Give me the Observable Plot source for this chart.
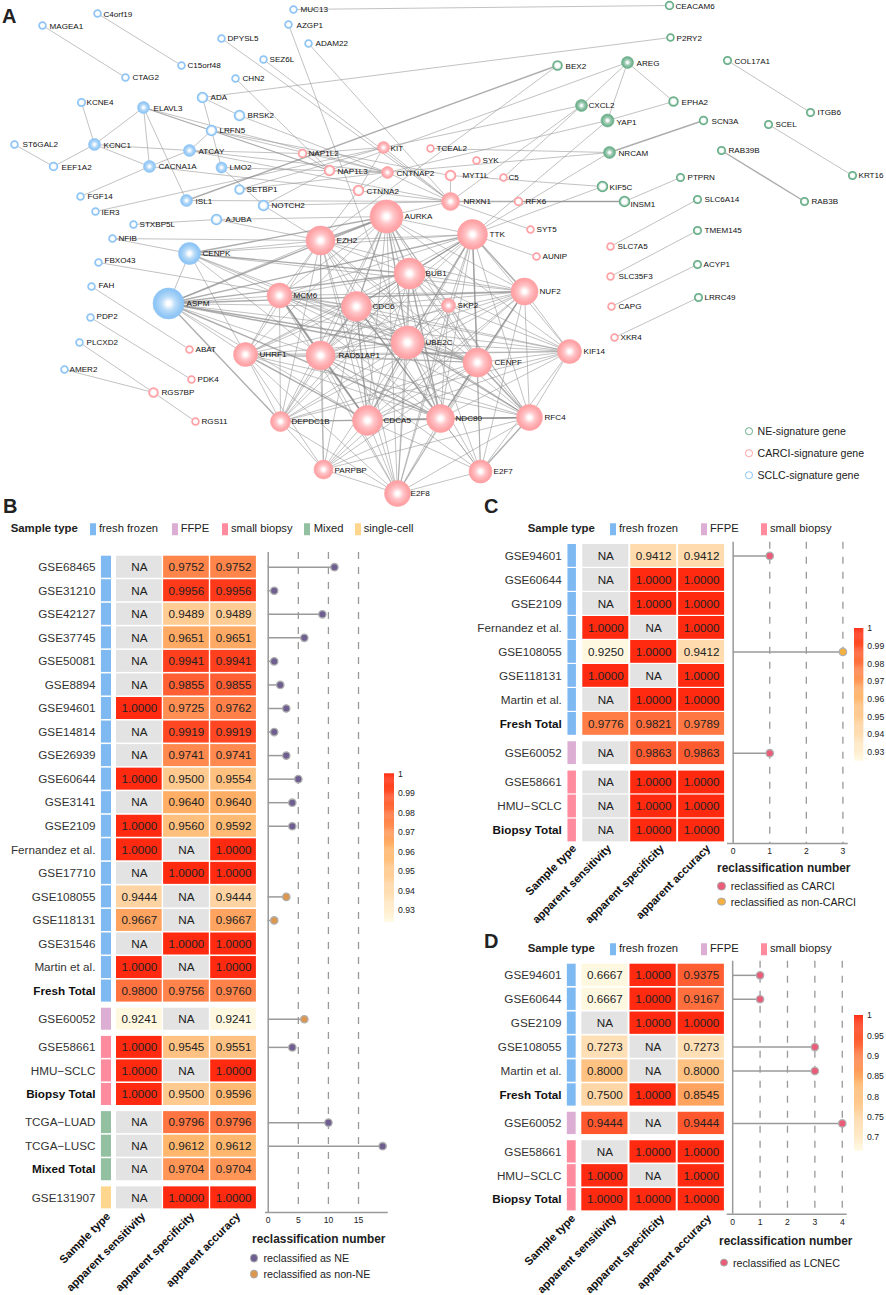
<!DOCTYPE html>
<html><head><meta charset="utf-8">
<script src="https://cdn.jsdelivr.net/npm/d3@7"></script>
<script src="https://cdn.jsdelivr.net/npm/@observablehq/plot@0.6"></script>
<style>
html,body{margin:0;padding:0;background:#fff}
#page{position:relative;width:886px;height:1295px;overflow:hidden;font-family:"Liberation Sans",Arial,sans-serif;color:#222}
#page svg{position:absolute;left:0;top:0;background:transparent}
.t{position:absolute;white-space:nowrap;transform:translateY(-50%);line-height:1}
.s{position:absolute;transform:translateY(-50%)}
</style></head><body><div id="page"></div>
<script>
// ---------- Panel A: gene network: [name, x, y, size, labelX, labelY]
const sclcGenes = [
["MAGEA1",42,25,3.5,49,25.5],["C4orf19",97,13,3.5,103,13.5],["MUC13",293,9,3.5,300,9],["AZGP1",288,24,3.5,296,24.5],
["DPYSL5",221,38,3.5,227,38],["ADAM22",308,43,3.5,315,43],["SEZ6L",263,59,3.5,269,59],["C15orf48",181,65,3.5,187,65],
["CTAG2",125,77,3.5,132,77],["CHN2",235,78,3.5,242,78],["ADA",202,97,5,210,97],["KCNE4",81,102,3.8,86,102],
["ELAVL3",143,107,6,153,107.5],["BRSK2",239,115,5,247,115],["LRFN5",211,130,5,219,130],["ST6GAL2",14,144,3.5,22,144],
["KCNC1",94,144,6,103,144.5],["ATCAY",189,150,6,198,150.5],["CACNA1A",149,166,6,158,166],["EEF1A2",53,166,4,61,166.5],
["LMO2",221,167,5.5,229,167],["SETBP1",239,189,4.5,246,189],["FGF14",80,196,3.5,87,196],["ISL1",186,200,6,195,200.5],
["NOTCH2",263,205,5,271,205],["IER3",95,211,3.5,101,211.5],["AJUBA",216,219,5,225,219],["STXBP5L",133,224,3.5,139,224],
["NFIB",112,238,3.5,118,238],["CENPK",189,253,11,202,253],["FBXO43",98,262,3.5,104,260],["FAH",91,286,3.5,98,285],
["ASPM",168,303,15.5,186,303],["PDP2",90,317,3.5,96,316],["PLCXD2",79,342,3.5,86,342],["AMER2",64,369,3.5,69,369]
];
const carciGenes = [
["NAP1L2",302,153,4,308,153],["KIT",383,147,6,390,147.5],["TCEAL2",430,148,3.5,436,148],["NAP1L3",329,170,5,337,170.5],
["CNTNAP2",387,172,6,396,172.5],["CTNNA2",358,190,5,366,190.5],["SYK",476,160,3.5,482,160],["MYT1L",450,175,5,462,175],
["C5",503,177,3.5,508,177],["NRXN1",450,201,9,463,201],["RFX6",518,201,4,525,201],["SYT5",530,229,3.5,536,229],
["AURKA",386,216,16.5,404,216],["EZH2",320,240,14.5,336,240],["TTK",472,234,15,489,234],["BUB1",409,273,15.5,425,273],
["AUNIP",536,256,3.5,542,256],["MCM6",279,295,12.5,293,295],["CDC6",356,306,15,372,306],["SKP2",448,305,7,457,305],
["NUF2",524,291,13.5,539,291],["UBE2C",407,342,16.5,425,342],["ABAT",189,349,3.5,195,349],["UHRF1",245,354,12,259,354],
["RAD51AP1",320,355,14.5,338,355],["PDK4",191,379,3.5,197,379],["RGS7BP",153,392,4.5,161,392],["RGS11",195,421,3.5,201,421],
["DEPDC1B",280,421,10,291,421],["CDCA5",367,420,15,383,420],["NDC80",440,418,14,455,417.5],["RFC4",529,417,13,544,417],
["KIF14",569,351,12,583,351],["CENPF",477,362,14.5,494,362],["PARPBP",323,469,9.5,334,470],["E2F7",480,471,11.5,493,471],
["E2F8",397,493,13,410,493],["SLC7A5",610,246,3.5,617,246],["SLC35F3",610,276,3.5,618,276],["CAPG",611,306,3.5,618,306],
["XKR4",614,337,3.5,620,337]
];
const neGenes = [
["CEACAM6",669,5,4,675,5.5],["P2RY2",670,37,3.5,676,37.5],["BEX2",557,65,4.5,565,65.5],["AREG",627,62,6,636,62.5],
["COL17A1",727,60,3.8,734,60.5],["CXCL2",581,105,6,588,105],["EPHA2",673,101,4.5,681,101.5],["YAP1",607,120,6.5,616,122],
["SCN3A",703,120,4,711,120.5],["ITGB6",810,112,3.8,817,112],["SCEL",768,124,3.8,775,124],["NRCAM",609,152,6,618,152.5],
["RAB39B",721,150,3.8,728,150],["KIF5C",602,186,5,609,186.5],["PTPRN",680,177,3.8,687,177],["INSM1",624,201,5,630,203.5],
["RAB3B",804,201,3.8,811,201],["KRT16",852,175,3.8,858,175],["SLC6A14",697,199,3.8,704,199],["TMEM145",697,230,3.8,704,230],
["ACYP1",697,264,3.8,703,264],["LRRC49",698,297,3.8,704,297]
];
// thin links outside the hub cluster
const outerLinks = ["MAGEA1 CTAG2","C4orf19 C15orf48","MUC13 CEACAM6","AZGP1 UBE2C","ADAM22 NRXN1","DPYSL5 NRXN1","SEZ6L NRXN1","CHN2 NAP1L3",
"ADA P2RY2","ADA BRSK2","ADA LRFN5","ELAVL3 LRFN5","ELAVL3 CACNA1A","ELAVL3 KCNC1","ELAVL3 ISL1","ELAVL3 NAP1L3","ELAVL3 CNTNAP2","KCNE4 KCNC1",
"KCNC1 EEF1A2","KCNC1 CACNA1A","KCNC1 ATCAY","ST6GAL2 EEF1A2","BRSK2 CNTNAP2","LRFN5 ATCAY","LRFN5 LMO2","LRFN5 MYT1L","LRFN5 CNTNAP2","LRFN5 NAP1L3",
"ATCAY CNTNAP2","ATCAY NRXN1","ATCAY CACNA1A","ATCAY NAP1L2","CACNA1A FGF14","CACNA1A NRXN1","LMO2 NOTCH2","LMO2 CNTNAP2","IER3 KIT","SETBP1 KIT","SETBP1 CNTNAP2",
"ISL1 NRXN1","NOTCH2 NRXN1","NOTCH2 NAP1L3","NOTCH2 EZH2","AJUBA EZH2","AJUBA AURKA","STXBP5L AJUBA","NFIB EZH2","FBXO43 CDC6","FAH ABAT","PDP2 PDK4","PLCXD2 RGS7BP",
"AMER2 RGS7BP","RGS7BP RGS11","BEX2 ISL1","BEX2 EZH2","AREG NAP1L3","AREG CXCL2","AREG YAP1","AREG EPHA2","CXCL2 C5","CXCL2 NRXN1","CXCL2 KIT","YAP1 EPHA2","YAP1 CNTNAP2",
"YAP1 TTK","SCN3A NRCAM","NRCAM TCEAL2","NRCAM CNTNAP2","NRCAM TTK","KIF5C MYT1L","KIF5C TTK","NRXN1 INSM1","RFX6 INSM1","MYT1L NRXN1","INSM1 PTPRN","NRXN1 SYT5",
"SLC6A14 SLC7A5","TMEM145 SLC35F3","ACYP1 CAPG","LRRC49 XKR4","COL17A1 ITGB6","SCEL KRT16","RAB39B RAB3B","TTK AUNIP","KIT NRXN1","KIT CTNNA2","CTNNA2 EZH2","NAP1L2 NAP1L3",
"NAP1L3 CNTNAP2","CNTNAP2 NRXN1","CTNNA2 CNTNAP2","CENPK ASPM","CENPK NFIB","KIT NAP1L2","NRXN1 AURKA"];
// hub cluster: first gene is linked to each of the others on its line
const hubLinks = [
"AURKA EZH2 TTK BUB1 MCM6 CDC6 SKP2 NUF2 RAD51AP1 UBE2C CENPF KIF14 UHRF1 DEPDC1B CDCA5 NDC80 RFC4 E2F8 ASPM CENPK",
"EZH2 TTK BUB1 MCM6 CDC6 NUF2 RAD51AP1 UBE2C CENPF UHRF1 DEPDC1B CDCA5 NDC80 RFC4 PARPBP E2F8 ASPM CENPK",
"TTK BUB1 MCM6 CDC6 SKP2 NUF2 RAD51AP1 UBE2C CENPF KIF14 UHRF1 DEPDC1B CDCA5 NDC80 RFC4 E2F7 E2F8 ASPM CENPK",
"BUB1 MCM6 CDC6 SKP2 NUF2 RAD51AP1 UBE2C CENPF KIF14 UHRF1 DEPDC1B CDCA5 NDC80 RFC4 E2F7 E2F8 ASPM CENPK",
"MCM6 CDC6 NUF2 RAD51AP1 UBE2C CENPF KIF14 UHRF1 DEPDC1B CDCA5 NDC80 RFC4 E2F8 ASPM CENPK",
"CDC6 SKP2 NUF2 RAD51AP1 UBE2C CENPF KIF14 UHRF1 DEPDC1B CDCA5 NDC80 RFC4 PARPBP E2F7 E2F8 ASPM",
"SKP2 UBE2C CENPF NDC80 CDCA5 RAD51AP1 RFC4 KIF14 E2F8",
"NUF2 RAD51AP1 UBE2C CENPF KIF14 UHRF1 DEPDC1B CDCA5 NDC80 RFC4 E2F7 E2F8 PARPBP ASPM CENPK",
"RAD51AP1 UBE2C CENPF KIF14 UHRF1 DEPDC1B CDCA5 NDC80 RFC4 PARPBP E2F7 E2F8 ASPM CENPK",
"UBE2C CENPF KIF14 UHRF1 DEPDC1B CDCA5 NDC80 RFC4 PARPBP E2F7 E2F8 ASPM CENPK",
"CENPF KIF14 UHRF1 DEPDC1B CDCA5 NDC80 RFC4 PARPBP E2F7 E2F8 ASPM CENPK",
"KIF14 UHRF1 CDCA5 NDC80 RFC4 E2F7 DEPDC1B ASPM",
"UHRF1 DEPDC1B CDCA5 NDC80 RFC4 PARPBP E2F8 ASPM CENPK",
"DEPDC1B CDCA5 NDC80 RFC4 PARPBP E2F8 ASPM",
"CDCA5 NDC80 RFC4 PARPBP E2F7 E2F8 ASPM",
"NDC80 RFC4 PARPBP E2F7 E2F8 ASPM",
"RFC4 E2F7 E2F8 PARPBP",
"PARPBP E2F8",
"E2F7 E2F8"
];
const strongLinks = ["ASPM TTK","ASPM AURKA","ASPM UBE2C","ASPM BUB1","ASPM NUF2","ASPM CENPF","ASPM DEPDC1B","ASPM NDC80","CENPK AURKA","CENPK BUB1","TTK UBE2C","NUF2 CENPF","CENPF NDC80","UBE2C CDCA5",
"AURKA BUB1","AURKA UBE2C","BUB1 TTK","BUB1 CDC6","NDC80 RFC4","MCM6 RAD51AP1","CDC6 RAD51AP1","CDC6 CDCA5","UBE2C NDC80","UBE2C RFC4","UBE2C CENPF","RAD51AP1 CDCA5","RAD51AP1 NDC80","TTK NUF2","TTK CENPF",
"EZH2 AURKA","MCM6 CDCA5","UHRF1 CDCA5","BUB1 NDC80","CDCA5 RFC4","AURKA CDC6","NRXN1 INSM1","RAB39B RAB3B","BEX2 ISL1","SCN3A NRCAM","CENPF RFC4","CDC6 NDC80","RFC4 E2F7"];
const geneLegend = [["NE-signature gene","NE"],["CARCI-signature gene","CARCI"],["SCLC-signature gene","SCLC"]];

// ---------- Panel B
const bRows = ["GSE68465","GSE31210","GSE42127","GSE37745","GSE50081","GSE8894","GSE94601","GSE14814","GSE26939","GSE60644","GSE3141","GSE2109","Fernandez et al.","GSE17710","GSE108055","GSE118131","GSE31546","Martin et al.","Fresh Total","GSE60052","GSE58661","HMU−SCLC","Biopsy Total","TCGA−LUAD","TCGA−LUSC","Mixed Total","GSE131907"];
const bTypes = ["fresh frozen","fresh frozen","fresh frozen","fresh frozen","fresh frozen","fresh frozen","fresh frozen","fresh frozen","fresh frozen","fresh frozen","fresh frozen","fresh frozen","fresh frozen","fresh frozen","fresh frozen","fresh frozen","fresh frozen","fresh frozen","fresh frozen","FFPE","small biopsy","small biopsy","small biopsy","Mixed","Mixed","Mixed","single-cell"];
const bSens = [null,null,null,null,null,null,1,null,null,1,null,1,1,null,.9444,.9667,null,1,.98,.9241,1,1,1,null,null,null,null];
const bSpec = [.9752,.9956,.9489,.9651,.9941,.9855,.9725,.9919,.9741,.95,.964,.956,null,1,null,null,1,null,.9756,null,.9545,null,.95,.9796,.9612,.9704,1];
const bAcc  = [.9752,.9956,.9489,.9651,.9941,.9855,.9762,.9919,.9741,.9554,.964,.9592,1,1,.9444,.9667,1,1,.976,.9241,.9551,1,.9596,.9796,.9612,.9704,1];
const bReclass = [11,1,9,6,1,2,3,1,3,5,4,4,null,null,3,1,null,null,null,6,4,null,null,10,19,null,null];
const bKind = ["NE","NE","NE","NE","NE","NE","NE","NE","NE","NE","NE","NE","","","non-NE","non-NE","","","","non-NE","NE","","","NE","NE","",""];
const bBarTicks = [1,.99,.98,.97,.96,.95,.94,.93];
const bAxisTicks = [0,5,10,15];
// ---------- Panel C
const cRows = ["GSE94601","GSE60644","GSE2109","Fernandez et al.","GSE108055","GSE118131","Martin et al.","Fresh Total","GSE60052","GSE58661","HMU−SCLC","Biopsy Total"];
const cTypes = ["fresh frozen","fresh frozen","fresh frozen","fresh frozen","fresh frozen","fresh frozen","fresh frozen","fresh frozen","FFPE","small biopsy","small biopsy","small biopsy"];
const cSens = [null,null,null,1,.925,1,null,.9776,null,null,null,null];
const cSpec = [.9412,1,1,null,1,null,1,.9821,.9863,1,1,1];
const cAcc  = [.9412,1,1,1,.9412,1,1,.9789,.9863,1,1,1];
const cReclass = [1,null,null,null,3,null,null,null,1,null,null,null];
const cKind = ["CARCI","","","","non-CARCI","","","","CARCI","","",""];
const cBarTicks = [1,.99,.98,.97,.96,.95,.94,.93];
const cAxisTicks = [0,1,2,3];
// ---------- Panel D
const dRows = ["GSE94601","GSE60644","GSE2109","GSE108055","Martin et al.","Fresh Total","GSE60052","GSE58661","HMU−SCLC","Biopsy Total"];
const dTypes = ["fresh frozen","fresh frozen","fresh frozen","fresh frozen","fresh frozen","fresh frozen","FFPE","small biopsy","small biopsy","small biopsy"];
const dSens = [.6667,.6667,null,.7273,.8,.75,.9444,null,1,1];
const dSpec = [1,1,1,null,null,1,null,1,null,1];
const dAcc  = [.9375,.9167,1,.7273,.8,.8545,.9444,1,1,1];
const dReclass = [1,1,null,3,3,null,4,null,null,null];
const dKind = ["LCNEC","LCNEC","","LCNEC","LCNEC","","LCNEC","","",""];
const dBarTicks = [1,.95,.9,.85,.8,.75,.7];
const dAxisTicks = [0,1,2,3,4];

const columnTitles = ["Sample type","apparent sensitivity","apparent specificity","apparent accuracy"];

// ---------- styling
const W = 886, H = 1295, FONT = '"Liberation Sans", Arial, sans-serif';
const typeColor = {"fresh frozen":"#7EB9F2","FFPE":"#DDAED3","small biopsy":"#FF8C9E","Mixed":"#93C0A0","single-cell":"#FFD68E"};
const kindColor = {"NE":"#6F5F90","non-NE":"#DB9650","CARCI":"#EA5C78","non-CARCI":"#F4B03E","LCNEC":"#EA5C78"};
const geneColor = {SCLC:"#8CC4F5",CARCI:"#FF9FA3",NE:"#68AE88"};
const heatRange = ["#FFF8E1","#FFB56B","#FF2A10"];
const page = document.getElementById("page");

function put(text,x,y,size,bold){
  const e=document.createElement("div");e.className="t";e.textContent=text;
  e.style.cssText=`left:${x}px;top:${y}px;font-size:${size}px;font-weight:${bold?"bold":"normal"}`;
  page.appendChild(e);
}
function swatch(x,y,color){
  const e=document.createElement("div");e.className="s";
  e.style.cssText=`left:${x}px;top:${y}px;width:6px;height:11.5px;background:${color}`;
  page.appendChild(e);
}
function disc(x,y,fill,stroke,r,sw){
  const e=document.createElement("div");e.className="s";
  e.style.cssText=`left:${x-r}px;top:${y}px;width:${2*r}px;height:${2*r}px;box-sizing:border-box;border-radius:50%;background:${fill};border:${sw}px solid ${stroke}`;
  page.appendChild(e);
}

// ---------- Panel A
const nodes = [
 ...sclcGenes.map(d=>({type:"SCLC",d})),
 ...carciGenes.map(d=>({type:"CARCI",d})),
 ...neGenes.map(d=>({type:"NE",d}))
].map(({type,d})=>({type,name:d[0],x:d[1],y:d[2],r:d[3],lx:d[4],ly:d[5]}));
const byName = new Map(nodes.map(n=>[n.name,n]));
const strongSet = new Set(strongLinks.map(s=>s.split(" ").sort().join(" ")));
const pair = s=>{const [a,b]=s.split(" ");return {a:byName.get(a),b:byName.get(b),k:[a,b].sort().join(" ")}};
const linkList = [...outerLinks.map(pair), ...hubLinks.flatMap(l=>{const [h,...rest]=l.split(" ");return rest.map(o=>pair(h+" "+o))})]
  .filter(l=>l.a&&l.b);
const thin = linkList.filter(l=>!strongSet.has(l.k));
const thick = linkList.filter(l=>strongSet.has(l.k));
const linkOpts = {x1:d=>d.a.x,y1:d=>d.a.y,x2:d=>d.b.x,y2:d=>d.b.y};

const net = Plot.plot({
  width:W,height:H,margin:0,style:{fontFamily:FONT,background:"transparent"},
  x:{domain:[0,W],axis:null},y:{domain:[0,H],reverse:true,axis:null},r:{type:"identity"},
  marks:[
    Plot.link(thin,{...linkOpts,stroke:"#999",strokeWidth:1,strokeOpacity:.6}),
    Plot.link(thick,{...linkOpts,stroke:"#8a8a8a",strokeWidth:1.4,strokeOpacity:.7}),
    Plot.dot(nodes.filter(n=>n.r>=5.5),{x:"x",y:"y",r:"r",fill:{value:d=>`url(#big-${d.type})`,scale:null},stroke:{value:d=>geneColor[d.type],scale:null},strokeWidth:.6}),
    Plot.dot(nodes.filter(n=>n.r<5.5),{x:"x",y:"y",r:"r",fill:{value:d=>`url(#small-${d.type})`,scale:null},stroke:{value:d=>geneColor[d.type],scale:null},strokeWidth:1.5}),
    Plot.text(nodes,{x:"lx",y:"ly",text:"name",textAnchor:"start",lineAnchor:"middle",fontSize:8.1,fill:"#111"})
  ]
});
const defs = d3.select(net).insert("defs",":first-child");
for (const [type,color] of Object.entries(geneColor)) {
  const mix = d3.interpolateRgb("#fff",color);
  const big = defs.append("radialGradient").attr("id","big-"+type);
  [[0,"#fff"],[.12,"#fff"],[.45,mix(.6)],[.8,mix(.92)],[1,color]].forEach(([o,col])=>big.append("stop").attr("offset",o).attr("stop-color",col));
  const small = defs.append("radialGradient").attr("id","small-"+type);
  [[0,"#fff"],[.5,"#fff"],[1,mix(.8)]].forEach(([o,col])=>small.append("stop").attr("offset",o).attr("stop-color",col));
}
page.appendChild(net);
geneLegend.forEach(([label,type],i)=>{
  const y=[431,453,475][i];
  disc(749,y,"#fff",geneColor[type],3.8,1.6);
  put(label,757.5,y,10.6,false);
});

// ---------- Panels B, C, D
function panel(p){
  const group = [...new Set(p.types)];
  const rows = p.rows.map((name,i)=>({
    name,i,type:p.types[i],pos:i+p.gap*group.indexOf(p.types[i]),
    sens:p.sens[i],spec:p.spec[i],acc:p.acc[i],reclass:p.reclass[i],kind:p.kind[i],
    bold:/Total$/.test(name)
  }));
  const cells = rows.flatMap(r=>[r.sens,r.spec,r.acc].map((v,c)=>({...r,c,v})));
  const total = rows[rows.length-1].pos+1;
  const bottom = p.cellTop+total*p.rowStep;
  const cw = p.cellW/p.colStep, ch = p.cellH/p.rowStep;
  const colorScale = {type:"linear",domain:[p.colorMin,(p.colorMin+1)/2,1],range:heatRange};
  const heat = Plot.plot({
    width:W,height:H,style:{fontFamily:FONT,background:"transparent"},
    marginLeft:p.cellLeft,marginRight:W-(p.cellLeft+3*p.colStep),marginTop:p.cellTop,marginBottom:H-bottom,
    x:{domain:[0,3],axis:null},y:{domain:[0,total],reverse:true,axis:null},color:colorScale,
    marks:[
      Plot.rect(rows,{x1:p.barX0,x2:p.barX1,y1:"pos",y2:d=>d.pos+ch,fill:{value:d=>typeColor[d.type],scale:null}}),
      Plot.rect(cells.filter(d=>d.v==null),{x1:"c",x2:d=>d.c+cw,y1:"pos",y2:d=>d.pos+ch,fill:"#E3E3E3"}),
      Plot.rect(cells.filter(d=>d.v!=null),{x1:"c",x2:d=>d.c+cw,y1:"pos",y2:d=>d.pos+ch,fill:"v"}),
      Plot.text(cells,{x:d=>d.c+cw/2,y:d=>d.pos+ch/2,text:d=>d.v==null?"NA":d.v.toFixed(4),fontSize:11.7,fill:"#222",lineAnchor:"middle"}),
      Plot.text(rows.filter(d=>!d.bold),{x:p.labelX,y:d=>d.pos+ch/2,text:"name",textAnchor:"end",lineAnchor:"middle",fontSize:11.7,fill:"#333"}),
      Plot.text(rows.filter(d=>d.bold),{x:p.labelX,y:d=>d.pos+ch/2,text:"name",textAnchor:"end",lineAnchor:"middle",fontSize:11.7,fontWeight:"bold",fill:"#111"}),
      Plot.text(columnTitles.map((t,i)=>({t,i})),{x:d=>(p.titleEnds[d.i]-p.cellLeft)/p.colStep,y:(p.titleY-p.cellTop)/p.rowStep,text:"t",rotate:-45,textAnchor:"end",lineAnchor:"middle",fontSize:11.3,fontWeight:"bold",fill:"#111"})
    ]
  });
  page.appendChild(heat);
  // lollipops share the rows of the heatmap
  const toUnit = y=>(y-p.cellTop)/p.rowStep;
  const lol = Plot.plot({
    width:W,height:H,style:{fontFamily:FONT,background:"transparent"},
    marginLeft:p.axisX0,marginRight:W-p.axisX1,marginTop:p.axisTop,marginBottom:H-p.axisBottom,
    x:{domain:[p.xMin,p.xMax],axis:null},y:{domain:[toUnit(p.axisTop),toUnit(p.axisBottom)],reverse:true,axis:null},
    marks:[
      Plot.ruleX(p.axisTicks.slice(1),{stroke:"#999",strokeWidth:1.3,strokeDasharray:"7,8"}),
      Plot.ruleX([0],{stroke:"#9a9a9a",strokeWidth:1.5}),
      Plot.ruleY([toUnit(p.axisBottom)],{stroke:"#9a9a9a",strokeWidth:1.5}),
      Plot.ruleY(rows.filter(d=>d.reclass!=null),{y:d=>d.pos+ch/2,x1:0,x2:"reclass",stroke:"#9a9a9a",strokeWidth:1.5}),
      Plot.dot(rows.filter(d=>d.reclass!=null),{x:"reclass",y:d=>d.pos+ch/2,r:3.7,fill:{value:d=>kindColor[d.kind],scale:null},stroke:"#b0b0b0",strokeWidth:1.3}),
      Plot.axisX({ticks:p.axisTicks,tickSize:0,tickPadding:4.5,fontSize:8.6,label:null,tickFormat:d=>String(d),fill:"#222"})
    ]
  });
  page.appendChild(lol);
  // colour bar
  const step=(1-p.colorMin)/140;
  const bar = Plot.plot({
    width:W,height:H,style:{fontFamily:FONT,background:"transparent"},
    marginLeft:p.cbX0,marginRight:W-p.cbX1,marginTop:p.cbY0,marginBottom:H-p.cbY1,
    x:{domain:[0,1],axis:null},y:{domain:[p.colorMin,1],axis:null},color:colorScale,
    marks:[
      Plot.rect(d3.range(0,140).map(i=>p.colorMin+i*step),{x1:0,x2:1,y1:d=>d,y2:d=>Math.min(1,d+step*1.3),fill:d=>d}),
      Plot.axisY({anchor:"right",ticks:p.barTicks,tickSize:0,tickPadding:3.5,fontSize:8.7,label:null,tickFormat:d=>String(d),fill:"#222"})
    ]
  });
  page.appendChild(bar);
  // headers, legends
  put(p.letter,p.letterX,p.letterY,20,true);
  put("Sample type",p.headX,p.headY,11.4,true);
  p.headItems.forEach(([name,sx,tx])=>{swatch(sx,p.headY,typeColor[name]);put(name,tx,p.headY,11.2,false)});
  put("reclassification number",p.numX-68,p.numY,11.9,true);
  p.kindLegend.forEach(([label,kind],i)=>{
    disc(p.legDotX,p.legY[i],kindColor[kind],"#aaa",4.4,1);
    put(label,p.legTextX,p.legY[i],10.7,false);
  });
}

panel({letter:"B",letterX:3,letterY:506,headX:10.7,headY:529,
  headItems:[["fresh frozen",89.5,99],["FFPE",171.5,180.7],["small biopsy",222,231],["Mixed",304,313.7],["single-cell",354.7,363.7]],
  rows:bRows,types:bTypes,sens:bSens,spec:bSpec,acc:bAcc,reclass:bReclass,kind:bKind,
  cellLeft:116,colStep:47.1,cellW:45.7,cellTop:555.7,rowStep:23.55,cellH:22,gap:.195,
  barX0:-.32,barX1:-.106,labelX:-.447,colorMin:.9241,
  titleEnds:[108,143,192,238],titleY:1214,
  axisX0:265,axisX1:387.7,axisTop:552,axisBottom:1212,xMin:-.45,xMax:19.93,axisTicks:bAxisTicks,
  cbX0:384,cbX1:394,cbY0:773.3,cbY1:921.7,barTicks:bBarTicks,
  numX:320,numY:1240,kindLegend:[["reclassified as NE","NE"],["reclassified as non-NE","non-NE"]],legDotX:254,legTextX:263.5,legY:[1258,1274]});

panel({letter:"C",letterX:484,letterY:506,headX:527.7,headY:529,
  headItems:[["fresh frozen",609.7,619],["FFPE",701,710],["small biopsy",761,770]],
  rows:cRows,types:cTypes,sens:cSens,spec:cSpec,acc:cAcc,reclass:cReclass,kind:cKind,
  cellLeft:582.3,colStep:47.9,cellW:46,cellTop:544,rowStep:24,cellH:22.8,gap:.22,
  barX0:-.31,barX1:-.133,labelX:-.438,colorMin:.925,
  titleEnds:[574,609,661.7,708],titleY:846,
  axisX0:727,axisX1:847.7,axisTop:541.7,axisBottom:843,xMin:-.155,xMax:3.145,axisTicks:cAxisTicks,
  cbX0:854,cbX1:863.3,cbY0:628,cbY1:760.7,barTicks:cBarTicks,
  numX:785,numY:869,kindLegend:[["reclassified as CARCI","CARCI"],["reclassified as non-CARCI","non-CARCI"]],legDotX:721.7,legTextX:730.7,legY:[886,901.7]});

panel({letter:"D",letterX:484,letterY:941,headX:527.7,headY:949,
  headItems:[["fresh frozen",609.7,619],["FFPE",701,710],["small biopsy",761,770]],
  rows:dRows,types:dTypes,sens:dSens,spec:dSpec,acc:dAcc,reclass:dReclass,kind:dKind,
  cellLeft:581.3,colStep:48.2,cellW:46.2,cellTop:963.7,rowStep:23.92,cellH:22.3,gap:.19,
  barX0:-.3,barX1:-.117,labelX:-.42,colorMin:.6667,
  titleEnds:[573,614,662,709],titleY:1216,
  axisX0:726.7,axisX1:846.7,axisTop:960.7,axisBottom:1213.7,xMin:-.2,xMax:4.18,axisTicks:dAxisTicks,
  cbX0:854,cbX1:863,cbY0:1015,cbY1:1150.7,barTicks:dBarTicks,
  numX:787,numY:1242,kindLegend:[["reclassified as LCNEC","LCNEC"]],legDotX:724,legTextX:733,legY:[1262.7]});

put("A",2,16,20,true);
</script></body></html>
